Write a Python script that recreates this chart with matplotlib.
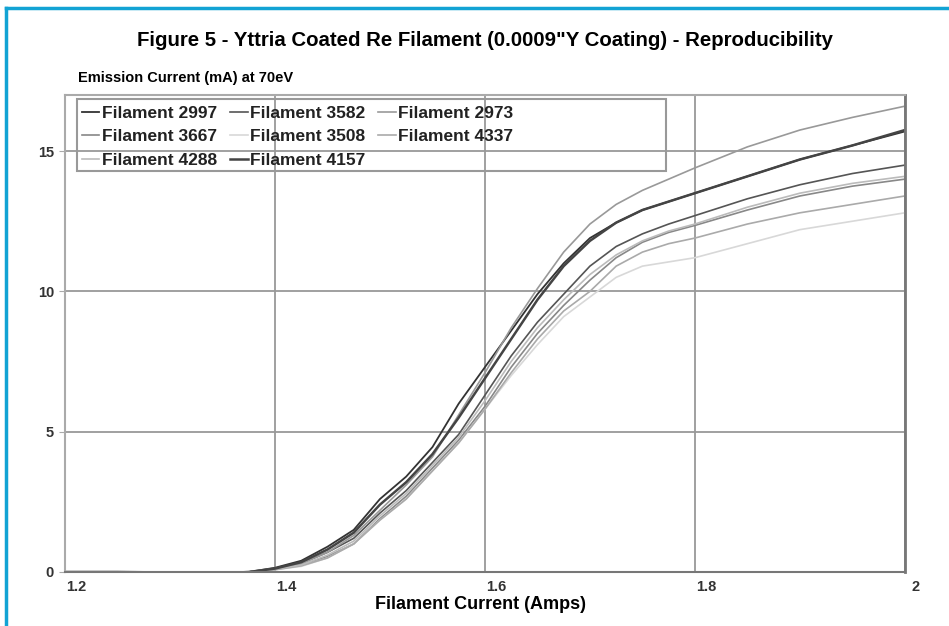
import numpy as np
import matplotlib
matplotlib.use("Agg")
from matplotlib import pyplot as plt
from matplotlib import transforms
from matplotlib.lines import Line2D
from matplotlib.patches import Rectangle

plt.rcParams['font.family'] = ['Liberation Sans', 'DejaVu Sans']

# filament current (A)
amps = [1.2, 1.25, 1.3, 1.35, 1.375, 1.4, 1.425, 1.45, 1.475, 1.5, 1.525, 1.55, 1.575,
        1.6, 1.625, 1.65, 1.675, 1.7, 1.725, 1.75, 1.775, 1.8, 1.85, 1.9, 1.95, 2.0]

# emission current (mA) per filament
f2997 = [0, 0, -0.02, -0.05, 0.0, 0.15, 0.4, 0.9, 1.5, 2.6, 3.4, 4.45, 6.0,
         7.3, 8.6, 9.9, 11.0, 11.9, 12.45, 12.9, 13.2, 13.5, 14.1, 14.7, 15.2, 15.7]
f3582 = [0, 0, -0.02, -0.05, 0.0, 0.12, 0.3, 0.7, 1.2, 2.1, 2.9, 3.9, 4.9,
         6.3, 7.7, 8.9, 9.9, 10.9, 11.6, 12.05, 12.4, 12.7, 13.3, 13.8, 14.2, 14.5]
f2973 = [0, 0, -0.02, -0.05, 0.0, 0.12, 0.3, 0.7, 1.3, 2.2, 3.1, 4.1, 5.6,
         7.1, 8.7, 10.1, 11.4, 12.4, 13.1, 13.6, 14.0, 14.4, 15.15, 15.75, 16.2, 16.6]
f3667 = [0, 0, -0.02, -0.05, 0.0, 0.1, 0.25, 0.55, 1.0, 1.9, 2.7, 3.7, 4.7,
         5.9, 7.3, 8.5, 9.5, 10.4, 11.2, 11.75, 12.1, 12.35, 12.9, 13.4, 13.75, 14.0]
f3508 = [0, 0, -0.02, -0.05, 0.0, 0.08, 0.2, 0.5, 1.0, 1.85, 2.6, 3.6, 4.6,
         5.8, 7.0, 8.1, 9.1, 9.8, 10.5, 10.9, 11.05, 11.2, 11.7, 12.2, 12.5, 12.8]
f4337 = [0, 0, -0.02, -0.05, 0.0, 0.08, 0.22, 0.5, 1.0, 1.85, 2.6, 3.6, 4.6,
         5.8, 7.1, 8.3, 9.3, 10.0, 10.9, 11.4, 11.7, 11.9, 12.4, 12.8, 13.1, 13.4]
f4288 = [0, 0, -0.02, -0.05, 0.0, 0.1, 0.25, 0.6, 1.1, 2.0, 2.8, 3.8, 4.8,
         6.1, 7.5, 8.7, 9.7, 10.6, 11.3, 11.8, 12.15, 12.4, 13.0, 13.5, 13.85, 14.1]
f4157 = [0, 0, -0.02, -0.05, 0.0, 0.12, 0.35, 0.8, 1.4, 2.4, 3.2, 4.2, 5.5,
         6.9, 8.3, 9.7, 10.9, 11.8, 12.45, 12.9, 13.2, 13.5, 14.1, 14.7, 15.2, 15.75]

labels = ["Filament 2997", "Filament 3582", "Filament 2973", "Filament 3667",
          "Filament 3508", "Filament 4337", "Filament 4288", "Filament 4157"]
series = [f2997, f3582, f2973, f3667, f3508, f4337, f4288, f4157]
colors = ["#333333", "#555555", "#999999", "#888888",
          "#d8d8d8", "#aaaaaa", "#bbbbbb", "#444444"]
widths = [1.3, 1.2, 1.2, 1.2, 1.2, 1.2, 1.2, 1.8]


def main():
    fig = plt.figure(figsize=(9.49, 6.26), dpi=100)
    ax = fig.add_axes([0.0685, 0.0863, 0.885, 0.762])

    handles = []
    for y, lab, c, w in zip(series, labels, colors, widths):
        h, = ax.plot(amps, y, color=c, lw=w, label=lab)
        handles.append(h)

    ax.set_xlim(1.2, 2.0)
    ax.set_ylim(0, 17)
    ax.set_xticks([1.2, 1.4, 1.6, 1.8, 2.0])
    ax.set_xticklabels(["1.2", "1.4", "1.6", "1.8", "2"])
    ax.set_yticks([0, 5, 10, 15])
    ax.grid(True, color="#999999", lw=1.3)
    ax.set_axisbelow(True)

    for s in ["left", "bottom", "top"]:
        ax.spines[s].set_color("#aaaaaa")
        ax.spines[s].set_linewidth(1.5)
    ax.spines["right"].set_color("#777777")
    ax.spines["right"].set_linewidth(2)
    ax.spines["bottom"].set_color("#777777")

    ax.tick_params(axis="x", length=0, pad=6, labelsize=10.5, labelcolor="#333333")
    ax.tick_params(axis="y", length=4, color="#aaaaaa", pad=4, labelsize=10.5,
                   labelcolor="#333333")
    for t in ax.get_xticklabels() + ax.get_yticklabels():
        t.set_fontweight("bold")
    off = transforms.ScaledTranslation(8 / 72, 0, fig.dpi_scale_trans)
    for t in ax.get_xticklabels():
        t.set_transform(t.get_transform() + off)

    # legend order filled row by row
    order = [0, 3, 6, 1, 4, 7, 2, 5]
    leg = ax.legend([handles[i] for i in order], [labels[i] for i in order],
                    ncol=3, loc="upper left", bbox_to_anchor=(0.012, 0.992),
                    frameon=False, fontsize=12.5, handlelength=1.0,
                    handletextpad=0.15, columnspacing=0.75, labelspacing=0.48,
                    borderaxespad=0)
    for t in leg.get_texts():
        t.set_fontweight("bold")
        t.set_color("#222222")
    ax.add_patch(Rectangle((0.0143, 0.8407), 0.701, 0.151, transform=ax.transAxes,
                           fill=False, ec="#999999", lw=1.5, zorder=5))

    fig.text(0.511, 0.936, "Figure 5 - Yttria Coated Re Filament (0.0009\"Y Coating) - Reproducibility",
             ha="center", va="center", fontsize=14.7, fontweight="bold")
    fig.text(0.082, 0.875, "Emission Current (mA) at 70eV", ha="left", va="center",
             fontsize=10.5, fontweight="bold")
    fig.text(0.506, 0.034, "Filament Current (Amps)", ha="center", va="center",
             fontsize=13, fontweight="bold")

    # cyan frame lines
    fig.add_artist(Line2D([0.006, 1.0], [0.987, 0.987], color="#12a3d4", lw=2.5))
    fig.add_artist(Line2D([0.006, 0.006], [0.0, 0.987], color="#12a3d4", lw=2.5))

    fig.savefig("out.png", dpi=100)


if __name__ == '__main__':
    main()
